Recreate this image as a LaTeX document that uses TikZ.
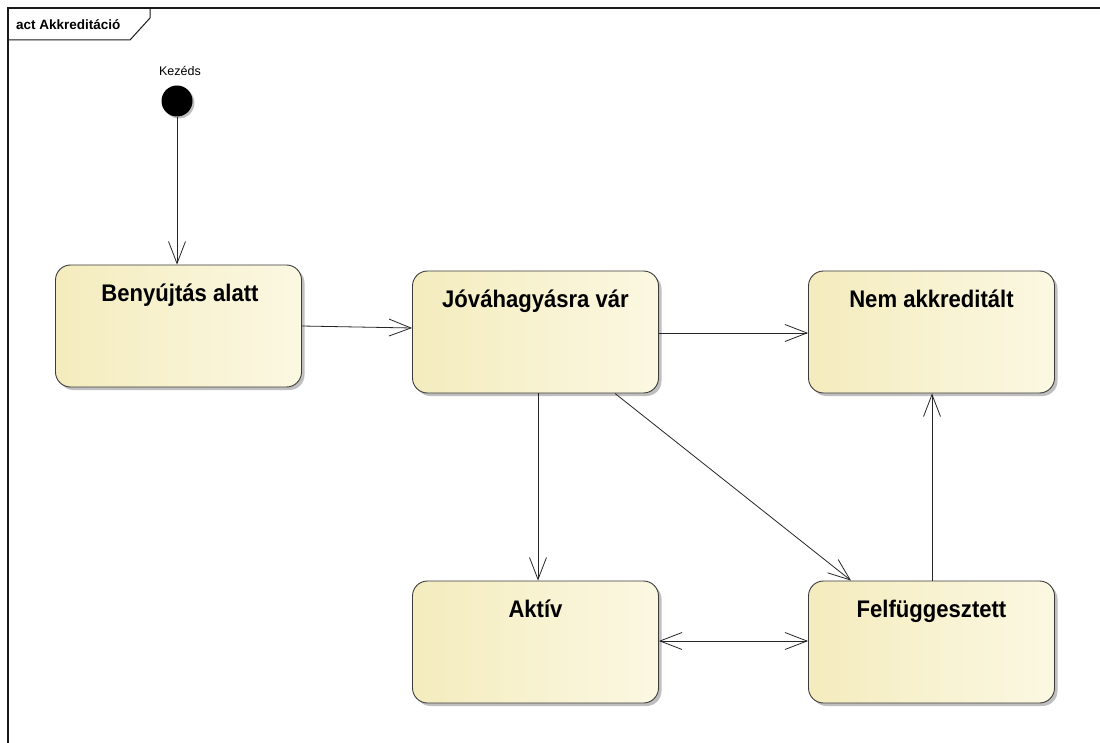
\documentclass[tikz,border=0pt]{standalone}
\usepackage{fontspec}
\setmainfont{Liberation Sans}
\newfontfamily\statefont[FakeStretch=0.92]{Liberation Sans Bold}
\usetikzlibrary{arrows.meta,shadows,calc}
\definecolor{stL}{RGB}{244,236,190}
\definecolor{stR}{RGB}{251,248,226}
\definecolor{stBorder}{RGB}{60,60,60}
\begin{document}
\begin{tikzpicture}[x=1pt,y=-1pt,
  statebox/.style={rectangle, rounded corners=15pt, draw=stBorder, line width=0.9pt,
    left color=stL, right color=stR, minimum width=246pt, minimum height=122pt,
    drop shadow={shadow xshift=3pt, shadow yshift=-3pt, opacity=0.25, fill=black}},
  statetitle/.style={font=\statefont\fontsize{24}{26}\selectfont, inner sep=0pt, anchor=north},
  initnode/.style={circle, fill=black, minimum size=31pt, inner sep=0pt,
    drop shadow={shadow xshift=2pt, shadow yshift=-2pt, opacity=0.25, fill=black}},
  trans/.style={draw=black!85, line width=0.8pt, -{Straight Barb[length=22pt,width=17pt,line width=0.8pt]}},
  bitrans/.style={draw=black!85, line width=0.8pt, {Straight Barb[length=22pt,width=17pt,line width=0.8pt]}-{Straight Barb[length=22pt,width=17pt,line width=0.8pt]}},
  framefont/.style={font=\fontsize{13.5}{15}\selectfont\bfseries, inner sep=0pt, anchor=west}
]
\useasboundingbox (0,0) rectangle (1100,743);
\fill[white] (0,0) rectangle (1100,743);
% frame
\draw[line width=1.4pt, black!90] (8,743) -- (8,8) -- (1100,8);
\draw[line width=1pt, black!90] (8,40) -- (130,40) -- (150,18) -- (150,8);
\node[framefont] (frametitle) at (16,24.5) {act Akkreditáció};

% initial node
\node[initnode] (init) at (177,101) {};
\node[font=\fontsize{12.5}{14}\selectfont, inner sep=0pt] (initlabel) at (180,71) {Kezéds};

% states
\node[statebox] (ben) at (178.5,326) {};
\node[statebox] (jov) at (535.5,332) {};
\node[statebox] (nem) at (931.5,332) {};
\node[statebox] (akt) at (535.5,642) {};
\node[statebox] (fel) at (931.5,642) {};

\node[statetitle] (benT) at ($(ben.north)+(1.5,19)$) {Benyújtás alatt};
\node[statetitle] (jovT) at ($(jov.north)+(0,19)$) {Jóváhagyásra vár};
\node[statetitle] (nemT) at ($(nem.north)+(0,19)$) {Nem akkreditált};
\node[statetitle] (aktT) at ($(akt.north)+(0,19)$) {Aktív};
\node[statetitle] (felT) at ($(fel.north)+(0,19)$) {Felfüggesztett};

% transitions
\draw[trans] (init.south) -- (init |- ben.north);
\draw[trans] (ben.east |- 0,326) -- (jov.west |- 0,328);
\draw[trans] (jov.east |- 0,333) -- (nem.west |- 0,333);
\draw[trans] (jov.south -| 538,0) -- (akt.north -| 538,0);
\draw[trans] (jov.south -| 615,0) -- (fel.north -| 851,0);
\draw[trans] (fel.north -| 932,0) -- (nem.south -| 932,0);
\draw[bitrans] (akt.east |- 0,641) -- (fel.west |- 0,641);
\end{tikzpicture}
\end{document}
